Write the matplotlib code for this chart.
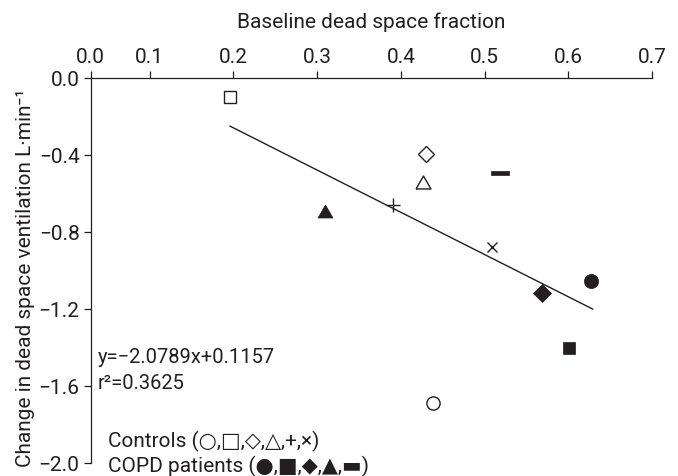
import matplotlib
matplotlib.use("Agg")
import matplotlib.pyplot as plt
import numpy as np

plt.rcParams['font.family'] = ['Roboto', 'DejaVu Sans']
plt.rcParams['axes.unicode_minus'] = True

INK = '#231f20'

# ---- data ----
ctrl_x = [0.438, 0.196, 0.430, 0.426, 0.391, 0.509]
ctrl_y = [-1.69, -0.10, -0.395, -0.54, -0.66, -0.876]
ctrl_kind = ['circle', 'square', 'diamond', 'triangle', 'plus', 'cross']

copd_x = [0.627, 0.601, 0.568, 0.310, 0.519]
copd_y = [-1.055, -1.405, -1.115, -0.69, -0.494]
copd_kind = ['circle', 'square', 'diamond', 'triangle', 'dash']

fit_x = [0.196, 0.629]
fit_y = [-0.25, -1.20]

xtick_pos = [0.0296, 0.1, 0.2, 0.3, 0.4, 0.5, 0.6, 0.7]
xtick_labels = ['0.0', '0.1', '0.2', '0.3', '0.4', '0.5', '0.6', '0.7']
ytick_vals = [0.0, -0.4, -0.8, -1.2, -1.6, -2.0]
ytick_labels = ['0.0', '\u22120.4', '\u22120.8', '\u22121.2', '\u22121.6', '\u22122.0']

eq_text = 'y=\u22122.0789x+0.1157'
r2_text = 'r\u00b2=0.3625'
ctrl_text = 'Controls (\u25cb,\u25a1,\u25c7,\u25b3,+,\u00d7)'
copd_text = 'COPD patients (\u25cf,\u25a0,\u25c6,\u25b2,\u25ac)'

# ---- marker styles ----
tri = np.array([[-1, -0.866], [1, -0.866], [0, 0.866], [-1, -0.866]])
dash = np.array([[-1, -0.265], [1, -0.265], [1, 0.265], [-1, 0.265], [-1, -0.265]])
open_style = {
    'circle': dict(marker='o', ms=9.5),
    'square': dict(marker='s', ms=8.6),
    'diamond': dict(marker='D', ms=8.0),
    'triangle': dict(marker=tri, ms=10.8),
    'plus': dict(marker='+', ms=10.5),
    'cross': dict(marker='x', ms=7.0),
}
fill_style = {
    'circle': dict(marker='o', ms=10.2),
    'square': dict(marker='s', ms=8.9),
    'diamond': dict(marker='D', ms=8.7),
    'triangle': dict(marker=tri, ms=10.8),
    'dash': dict(marker=dash, ms=12.7),
}

FS = 15

fig = plt.figure(figsize=(6.78, 4.76), dpi=100)
ax = fig.add_axes([0.1338, 0.0273, 0.8279, 0.8088])
ax.set_xlim(xtick_pos[0], 0.7)
ax.set_ylim(-2.0, 0.0)

for x, y, k in zip(ctrl_x, ctrl_y, ctrl_kind):
    st = open_style[k]
    ax.plot([x], [y], linestyle='none', marker=st['marker'], markersize=st['ms'],
            markerfacecolor='white', markeredgecolor=INK, markeredgewidth=1.0,
            clip_on=False, zorder=3)
for x, y, k in zip(copd_x, copd_y, copd_kind):
    st = fill_style[k]
    ax.plot([x], [y], linestyle='none', marker=st['marker'], markersize=st['ms'],
            markerfacecolor=INK, markeredgecolor=INK, markeredgewidth=0.5,
            clip_on=False, zorder=3)

ax.plot(fit_x, fit_y, color=INK, linewidth=1.0, zorder=2)

# axes styling
for s in ['right', 'bottom']:
    ax.spines[s].set_visible(False)
for s in ['top', 'left']:
    ax.spines[s].set_linewidth(0.9)
    ax.spines[s].set_color(INK)

ax.xaxis.tick_top()
ax.set_xticks(xtick_pos)
ax.set_xticklabels(xtick_labels)
ax.set_yticks(ytick_vals)
ax.set_yticklabels(ytick_labels)
ax.tick_params(axis='both', direction='out', length=5, width=0.9, color=INK,
               labelsize=FS, labelcolor=INK, pad=3)

ax.xaxis.set_label_position('top')
ax.set_xlabel('Baseline dead space fraction', fontsize=FS, color=INK)
ax.xaxis.set_label_coords(0.5, 1.145)
ax.xaxis.label.set_verticalalignment('center')

ax.set_ylabel('Change in dead space ventilation L\u00b7min\u207b\u00b9', fontsize=FS, color=INK)
ax.yaxis.set_label_coords(-0.117, 0.48)
ax.yaxis.label.set_verticalalignment('center')

ax.text(0.038, -1.45, eq_text, fontsize=14.5, color=INK, va='center', ha='left')
ax.text(0.038, -1.585, r2_text, fontsize=14.5, color=INK, va='center', ha='left')
ax.text(0.050, -1.886, ctrl_text, fontsize=FS, color=INK, va='center', ha='left')
ax.text(0.050, -2.016, copd_text, fontsize=FS, color=INK, va='center', ha='left')

fig.savefig('out.png', dpi=100)
